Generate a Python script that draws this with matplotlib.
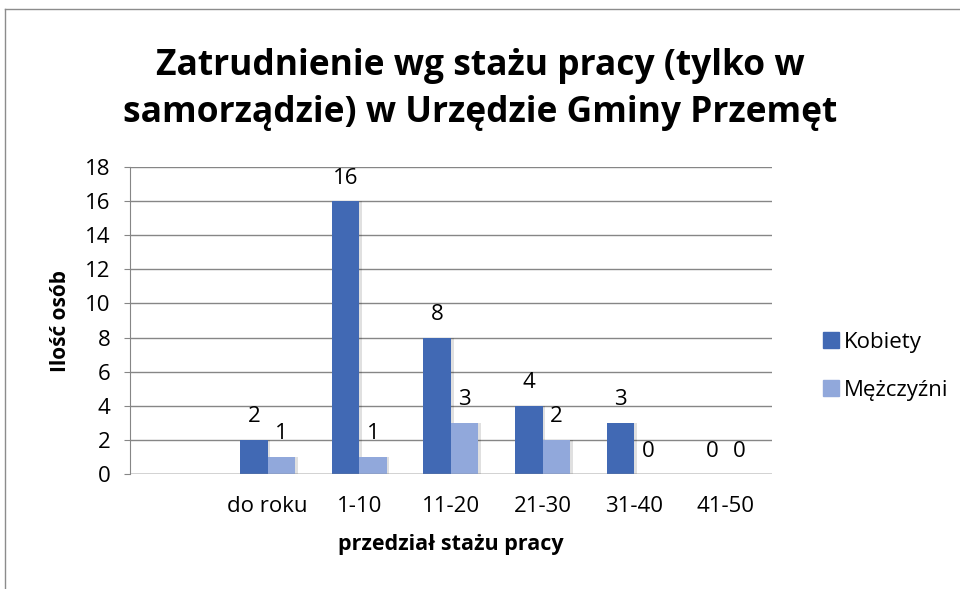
import matplotlib
matplotlib.use("Agg")
import matplotlib.pyplot as plt
from matplotlib.lines import Line2D
import numpy as np

plt.rcParams['font.family'] = ['Open Sans', 'DejaVu Sans']

categories = ["", "do roku", "1-10", "11-20", "21-30", "31-40", "41-50"]
kobiety = [None, 2, 16, 8, 4, 3, 0]
mezczyzni = [None, 1, 1, 3, 2, 0, 0]
series_names = ["Kobiety", "Mężczyźni"]
title = "Zatrudnienie wg stażu pracy (tylko w\nsamorządzie) w Urzędzie Gminy Przemęt"
ylabel = "Ilość osób"
xlabel = "przedział stażu pracy"
yticks = [0, 2, 4, 6, 8, 10, 12, 14, 16, 18]

c_k = "#4169B4"
c_m = "#91A8DB"

fig = plt.figure(figsize=(9.6, 5.89), dpi=100)
ax = fig.add_axes([0.1354, 0.1952, 0.804 - 0.1354, 0.7165 - 0.1952])

x = np.arange(len(categories))
w = 0.3
for vals, off, col in [(kobiety, -w / 2, c_k), (mezczyzni, w / 2, c_m)]:
    xs = [xi + off for xi, v in zip(x, vals) if v is not None]
    vs = [v for v in vals if v is not None]
    ax.bar([xx + 0.03 for xx in xs], vs, width=w, color="#000000", alpha=0.12, zorder=2)
    ax.bar(xs, vs, width=w, color=col, zorder=3)
    for xx, v in zip(xs, vs):
        ax.annotate(str(v), (xx, v), xytext=(0, 9), textcoords="offset points",
                    ha="center", va="bottom", fontsize=16, color="black")

ax.set_xlim(-0.5, len(categories) - 0.5)
ax.set_ylim(0, 18)
ax.set_yticks(yticks)
ax.set_yticklabels([str(t) for t in yticks], fontsize=16)
ax.set_xticks(x)
ax.set_xticklabels(categories, fontsize=16)
ax.tick_params(axis="x", length=0, pad=16)
ax.tick_params(axis="y", length=4, color="#868686", direction="out", pad=10)
ax.grid(axis="y", color="#868686", linewidth=1, zorder=0)
for s in ["top", "right", "bottom"]:
    ax.spines[s].set_visible(False)
ax.spines["left"].set_color("#868686")
ax.axhline(0, color="#868686", linewidth=1, zorder=4)

ax.set_ylabel(ylabel, fontsize=15, fontweight="bold", labelpad=10)
ax.set_xlabel(xlabel, fontsize=15.5, fontweight="bold", labelpad=12)

fig.text(0.5, 0.848, title, ha="center", va="center", fontsize=25.5,
         fontweight="bold", linespacing=1.4)

handles = [Line2D([], [], marker="s", linestyle="none", markersize=11, color=c_k),
           Line2D([], [], marker="s", linestyle="none", markersize=11, color=c_m)]
fig.legend(handles, series_names, loc="center left", bbox_to_anchor=(0.833, 0.378),
           frameon=False, fontsize=16, handletextpad=0.1, labelspacing=1.2,
           handlelength=1.0)

fig.add_artist(Line2D([5 / 960, 5 / 960], [0, 1 - 9 / 589], transform=fig.transFigure,
                      color="#8c8c8c", linewidth=1))
fig.add_artist(Line2D([5 / 960, 1], [1 - 9 / 589, 1 - 9 / 589], transform=fig.transFigure,
                      color="#8c8c8c", linewidth=1))

fig.savefig("out.png", dpi=100)
